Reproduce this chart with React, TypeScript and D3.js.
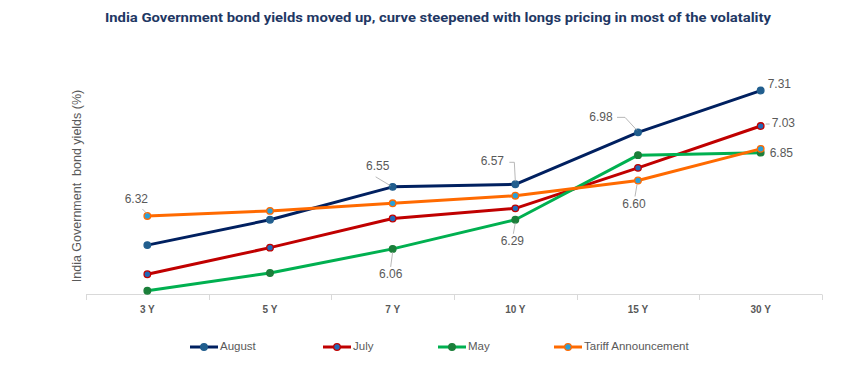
import React from "react";
import * as d3 from "d3";

const categories = ["3 Y", "5 Y", "7 Y", "10 Y", "15 Y", "30 Y"];
const seriesNames = ["August", "July", "May", "Tariff Announcement"];
const august = [6.09, 6.29, 6.55, 6.57, 6.98, 7.31];
const july = [5.86, 6.07, 6.3, 6.38, 6.7, 7.03];
const may = [5.73, 5.87, 6.06, 6.29, 6.8, 6.82];
const tariff = [6.32, 6.36, 6.42, 6.48, 6.6, 6.85];
const yDomain = [5.7, 7.5];

const title =
  "India Government bond yields moved up, curve steepened with longs pricing in most of the volatality";
const yTitle = "India Government  bond yields (%)";

// data labels: series index, category index
const labels = [
  { s: 3, c: 0, dx: -11, dy: -16, leader: [[-5, -7], [0, -2]] },
  { s: 0, c: 2, dx: -15, dy: -20, leader: [[-17, -10], [-2, -1]] },
  { s: 0, c: 3, dx: -23, dy: -22, leader: [[-6, -22], [-1, -22], [0, -3]] },
  { s: 0, c: 4, dx: -37, dy: -15, leader: [[-21, -15], [-13, -15], [-1, -2]] },
  { s: 0, c: 5, dx: 7, dy: -6, leader: null },
  { s: 1, c: 5, dx: 11, dy: -2, leader: [[5, -2], [9, -2]] },
  { s: 3, c: 5, dx: 9, dy: 5, leader: null },
  { s: 3, c: 4, dx: -4, dy: 24, leader: [[-1, 4], [-3, 16]] },
  { s: 2, c: 3, dx: -3, dy: 22, leader: [[0, 3], [-2, 14]] },
  { s: 2, c: 2, dx: -2, dy: 26, leader: [[0, 3], [-2, 18]] },
];

const lineColors = ["#002060", "#C00000", "#00B050", "#FF6A00"];
const markerFill = ["#215E8E", "#2169B8", "#1B7F3A", "#2AA0D8"];
const markerStroke = ["#215E8E", "#C00000", "#1B7F3A", "#FF6A00"];

export default function App() {
  const W = 852;
  const H = 379;
  const allSeries = [august, july, may, tariff];
  const x0 = 86;
  const x1 = 822;
  const x = d3.scaleBand<string>().domain(categories).range([x0, x1]);
  const y = d3.scaleLinear().domain(yDomain).range([294.5, 66.5]);
  const cx = (c: number) => (x(categories[c]) as number) + x.bandwidth() / 2;
  const line = d3
    .line<number>()
    .x((_, i) => cx(i))
    .y((d) => y(d));
  const gray = "#595959";
  const legendX = [190, 323, 438, 554];

  return (
    <svg
      width={W}
      height={H}
      style={{ position: "absolute", left: 0, top: 0, background: "#fff" }}
      fontFamily="'Liberation Sans', Arial, sans-serif"
    >
      <rect width={W} height={H} fill="#fff" />
      <text
        x={438}
        y={22}
        textAnchor="middle"
        fontFamily="Roboto, 'Liberation Sans', sans-serif"
        fontWeight={700}
        fontSize={13}
        fill="#1F3864"
        textLength={666}
        lengthAdjust="spacingAndGlyphs"
      >
        {title}
      </text>

      <text
        transform={`translate(81,${186}) rotate(-90)`}
        textAnchor="middle"
        fontSize={12.5}
        fill={gray}
        style={{ whiteSpace: "pre" }}
      >
        {yTitle}
      </text>

      {/* x axis */}
      <line x1={x0} x2={x1} y1={294.5} y2={294.5} stroke="#D9D9D9" strokeWidth={1} />
      {d3.range(categories.length + 1).map((i) => {
        const xx = Math.round(x0 + i * x.step()) + 0.5;
        return <line key={i} x1={xx} x2={xx} y1={294.5} y2={300} stroke="#D9D9D9" />;
      })}
      {categories.map((c, i) => (
        <text
          key={c}
          x={cx(i)}
          y={313}
          textAnchor="middle"
          fontSize={10}
          fontWeight={700}
          fill={gray}
          fontFamily="'Liberation Sans Narrow', 'Liberation Sans', Arial, sans-serif"
        >
          {c}
        </text>
      ))}

      {/* lines */}
      {allSeries.map((s, si) => (
        <path
          key={si}
          d={line(s) as string}
          fill="none"
          stroke={lineColors[si]}
          strokeWidth={3}
          strokeLinejoin="round"
        />
      ))}
      {allSeries.map((s, si) =>
        s.map((v, i) => (
          <circle
            key={`${si}-${i}`}
            cx={cx(i)}
            cy={y(v)}
            r={3.3}
            fill={markerFill[si]}
            stroke={markerStroke[si]}
            strokeWidth={1.3}
          />
        ))
      )}

      {/* data labels */}
      {labels.map((l, k) => {
        const v = allSeries[l.s][l.c];
        const px = cx(l.c);
        const py = y(v);
        const rightSide = l.c === 5;
        return (
          <g key={k}>
            {l.leader && (
              <polyline
                points={l.leader.map((p) => `${px + p[0]},${py + p[1]}`).join(" ")}
                fill="none"
                stroke="#A6A6A6"
                strokeWidth={0.8}
              />
            )}
            <text
              x={px + l.dx}
              y={py + l.dy}
              textAnchor={rightSide ? "start" : "middle"}
              dominantBaseline="middle"
              fontSize={12}
              fill={gray}
            >
              {v.toFixed(2)}
            </text>
          </g>
        );
      })}

      {/* legend */}
      {seriesNames.map((n, i) => (
        <g key={n}>
          <line
            x1={legendX[i]}
            x2={legendX[i] + 28}
            y1={347}
            y2={347}
            stroke={lineColors[i]}
            strokeWidth={3}
          />
          <circle
            cx={legendX[i] + 14}
            cy={347}
            r={3.3}
            fill={markerFill[i]}
            stroke={markerStroke[i]}
            strokeWidth={1.3}
          />
          <text
            x={legendX[i] + 30}
            y={347}
            dominantBaseline="middle"
            fontSize={11.5}
            fill={gray}
          >
            {n}
          </text>
        </g>
      ))}
    </svg>
  );
}
